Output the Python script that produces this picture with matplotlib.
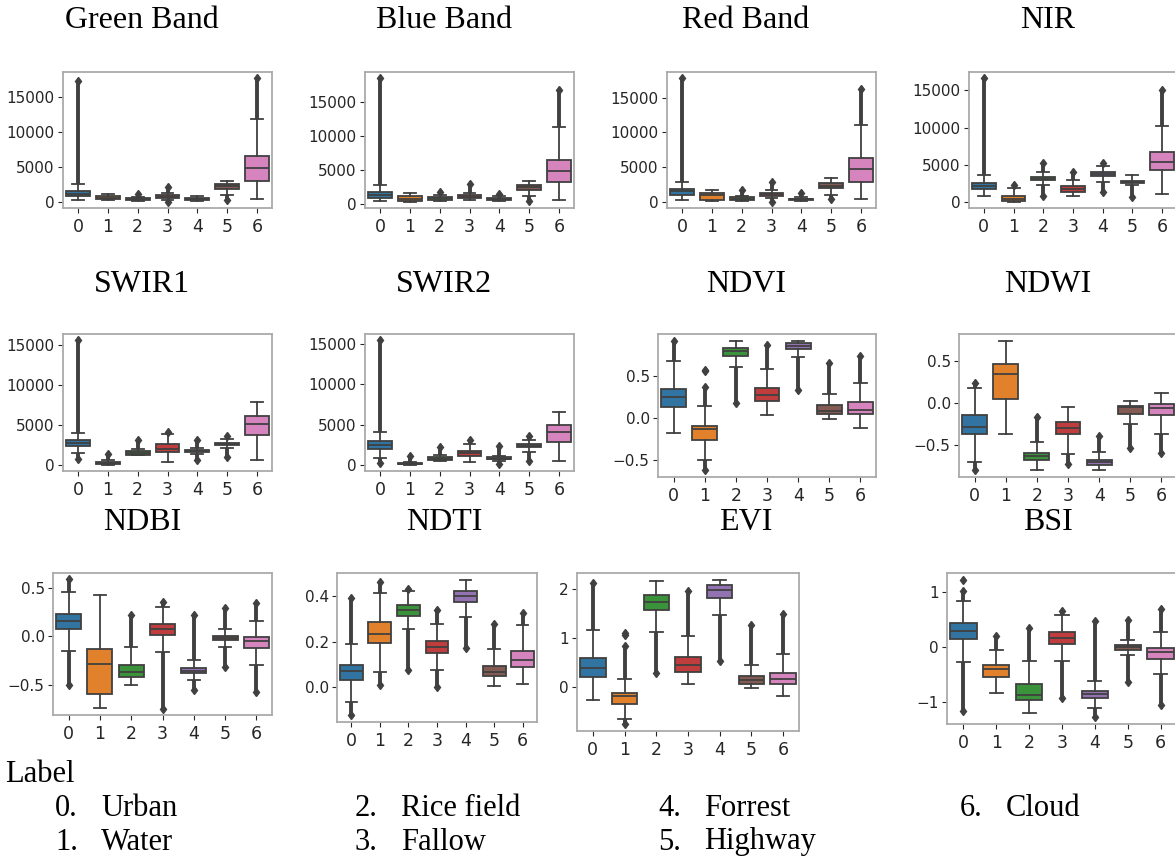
import numpy as np
import matplotlib.pyplot as plt

# ======================= chart data =======================
# one row per class 0..6: [whisker low, q1, median, q3, whisker high, lowest outlier, highest outlier]
# (nan = no outliers on that side)
nan = np.nan
green_band = [
    [330, 794, 1170, 1540, 2570, nan, 17300],
    [230, 370, 600, 840, 1170, nan, nan],
    [140, 280, 420, 560, 700, nan, 1170],
    [230, 560, 750, 930, 1260, 0, 2100],
    [150, 280, 400, 560, 800, nan, nan],
    [930, 1780, 2200, 2570, 3040, 330, nan],
    [470, 3040, 4810, 6540, 11780, nan, 17660],
]
blue_band = [
    [390, 870, 1360, 1690, 2760, nan, 18540],
    [290, 480, 770, 1110, 1600, nan, nan],
    [390, 630, 800, 970, 1260, nan, 1690],
    [630, 920, 1060, 1260, 1600, nan, 2900],
    [390, 580, 720, 920, 1110, nan, 1450],
    [1210, 1980, 2420, 2810, 3390, 390, nan],
    [630, 3150, 4890, 6530, 11280, nan, 16850],
]
red_band = [
    [230, 1030, 1490, 1860, 2890, nan, 17800],
    [140, 280, 930, 1300, 1720, nan, nan],
    [140, 330, 470, 650, 790, nan, 1630],
    [560, 840, 1070, 1300, 1720, 0, 2890],
    [90, 230, 350, 470, 700, nan, 1300],
    [1030, 1960, 2330, 2700, 3490, 470, nan],
    [370, 2890, 4660, 6290, 11090, nan, 16310],
]
nir = [
    [790, 1760, 2150, 2550, 3690, nan, 16620],
    [40, 180, 480, 880, 1890, nan, 2330],
    [2240, 2900, 3120, 3390, 4000, 840, 5230],
    [840, 1410, 1800, 2110, 2990, nan, 4000],
    [2680, 3470, 3740, 4000, 4790, 1360, 5230],
    [2330, 2590, 2730, 2860, 3690, 700, nan],
    [1140, 4310, 5410, 6730, 10160, nan, 15080],
]
swir1 = [
    [1530, 2430, 2760, 3090, 4000, 780, 15660],
    [40, 120, 250, 370, 580, nan, 1440],
    [1240, 1320, 1530, 1730, 2060, nan, 3090],
    [370, 1650, 2060, 2640, 3870, nan, 4200],
    [1440, 1650, 1810, 1940, 2140, 700, 3170],
    [2140, 2470, 2640, 2760, 3260, 990, 3590],
    [700, 3790, 5110, 6140, 7910, nan, nan],
]
swir2 = [
    [860, 2010, 2500, 2910, 4060, 250, 15490],
    [0, 40, 120, 250, 370, nan, 1150],
    [530, 610, 780, 980, 1270, nan, 2170],
    [330, 1150, 1480, 1760, 2580, nan, 3110],
    [450, 660, 780, 940, 1070, 120, 2300],
    [1560, 2170, 2340, 2540, 3030, 410, 3520],
    [450, 2790, 4020, 4920, 6520, nan, nan],
]
ndvi = [
    [-0.189, 0.126, 0.244, 0.343, 0.669, nan, 0.913],
    [-0.504, -0.272, -0.142, -0.106, 0.134, -0.63, 0.362],
    [0.606, 0.736, 0.787, 0.827, 0.909, 0.177, nan],
    [0.028, 0.193, 0.264, 0.346, 0.579, nan, 0.866],
    [0.724, 0.815, 0.850, 0.886, 0.917, 0.323, nan],
    [-0.012, 0.043, 0.075, 0.146, 0.276, nan, 0.646],
    [-0.13, 0.039, 0.094, 0.185, 0.417, nan, 0.728],
]
ndwi = [
    [-0.714, -0.379, -0.286, -0.149, 0.181, -0.806, 0.234],
    [-0.375, 0.040, 0.347, 0.464, 0.746, nan, nan],
    [-0.810, -0.690, -0.637, -0.597, -0.472, nan, -0.173],
    [-0.617, -0.379, -0.302, -0.226, -0.052, -0.734, nan],
    [-0.806, -0.742, -0.714, -0.681, -0.593, nan, -0.395],
    [-0.258, -0.129, -0.052, -0.032, 0.020, -0.544, nan],
    [-0.371, -0.149, -0.060, -0.012, 0.121, -0.605, nan],
]
ndbi = [
    [-0.145, 0.074, 0.165, 0.232, 0.455, -0.498, 0.589],
    [-0.734, -0.589, -0.286, -0.128, 0.428, nan, nan],
    [-0.505, -0.414, -0.370, -0.296, -0.111, nan, 0.219],
    [-0.155, 0.017, 0.074, 0.125, 0.300, -0.744, 0.354],
    [-0.448, -0.380, -0.354, -0.323, -0.246, -0.549, 0.219],
    [-0.111, -0.037, -0.017, 0.007, 0.081, -0.313, 0.293],
    [-0.296, -0.121, -0.044, -0.010, 0.158, -0.576, 0.343],
]
ndti = [
    [-0.062, 0.034, 0.072, 0.100, 0.192, -0.122, 0.393],
    [0.067, 0.196, 0.235, 0.285, 0.416, 0.010, 0.462],
    [0.254, 0.315, 0.340, 0.361, 0.423, 0.075, 0.430],
    [0.075, 0.149, 0.178, 0.204, 0.280, 0.0, 0.340],
    [0.308, 0.376, 0.400, 0.423, 0.472, 0.172, nan],
    [0.007, 0.049, 0.067, 0.096, 0.168, nan, 0.280],
    [0.017, 0.089, 0.118, 0.161, 0.275, nan, 0.328],
]
evi = [
    [-0.269, 0.189, 0.384, 0.593, 1.158, nan, 2.121],
    [-0.660, -0.350, -0.189, -0.135, 0.155, -0.761, 0.822],
    [1.125, 1.562, 1.731, 1.865, 2.168, 0.269, nan],
    [0.047, 0.303, 0.451, 0.606, 1.024, nan, 1.953],
    [1.461, 1.818, 1.966, 2.067, 2.175, 0.519, nan],
    [-0.034, 0.054, 0.135, 0.215, 0.438, nan, 1.259],
    [-0.189, 0.054, 0.155, 0.283, 0.660, nan, 1.481],
]
bsi = [
    [-0.275, 0.143, 0.293, 0.430, 0.830, -1.17, 1.009],
    [-0.830, -0.543, -0.406, -0.334, -0.048, nan, 0.203],
    [-1.200, -0.973, -0.872, -0.681, -0.257, nan, 0.352],
    [-0.251, 0.048, 0.167, 0.263, 0.573, -0.931, 0.657],
    [-1.110, -0.931, -0.860, -0.794, -0.621, -1.278, 0.472],
    [-0.155, -0.048, -0.006, 0.042, 0.131, -0.645, 0.490],
    [-0.496, -0.215, -0.096, -0.012, 0.263, -1.051, 0.693],
]

# a few isolated outliers (class, value)
extra_ndvi = [(1, 0.55), (1, 0.57)]
extra_evi = [(1, 1.06), (1, 1.10)]
extra_bsi = [(0, 1.22)]

titles = ["Green Band", "Blue Band", "Red Band", "NIR",
          "SWIR1", "SWIR2", "NDVI", "NDWI",
          "NDBI", "NDTI", "EVI", "BSI"]
panel_data = [green_band, blue_band, red_band, nir,
              swir1, swir2, ndvi, ndwi,
              ndbi, ndti, evi, bsi]
panel_extra = [[], [], [], [], [], [], extra_ndvi, [], [], [], extra_evi, extra_bsi]
band_ticks = [0, 5000, 10000, 15000]
panel_yticks = [band_ticks, band_ticks, band_ticks, band_ticks,
                band_ticks, band_ticks, [-0.5, 0.0, 0.5], [-0.5, 0.0, 0.5],
                [-0.5, 0.0, 0.5], [0.0, 0.2, 0.4], [0, 1, 2], [-1, 0, 1]]

class_ids = ["0", "1", "2", "3", "4", "5", "6"]
class_names = ["Urban", "Water", "Rice field", "Fallow", "Forrest", "Highway", "Cloud"]
# ===========================================================

W, H = 1175, 859
colors = ["#3274a1", "#e1812c", "#3a923a", "#c03d3e", "#9372b2", "#845b53", "#d684bd"]
gray = "#404040"

# axes boxes in pixels (left, top, right, bottom) - panels are pasted at slightly different sizes
boxes = [(63, 72, 272, 208), (365, 72, 574, 208), (667, 72, 876, 208), (969, 72, 1177, 208),
         (63, 334, 272, 471), (365, 334, 574, 471), (658, 334, 876, 477), (959, 334, 1177, 477),
         (53, 573, 272, 715), (337, 573, 537, 722), (577, 573, 799, 731), (947, 573, 1177, 724)]
title_y = [21, 21, 21, 21, 284, 284, 284, 284, 522, 522, 522, 522]
title_x = [142, 444, 746, 1048] * 3

fig = plt.figure(figsize=(W / 100, H / 100), dpi=100)

for i, rows in enumerate(panel_data):
    x0, y0, x1, y1 = boxes[i]
    ax = fig.add_axes([x0 / W, 1 - y1 / H, (x1 - x0) / W, (y1 - y0) / H])
    stats = []
    for r in rows:
        stats.append(dict(whislo=r[0], q1=r[1], med=r[2], q3=r[3], whishi=r[4], fliers=[]))
    bp = ax.bxp(stats, positions=range(7), widths=0.8, patch_artist=True,
                boxprops=dict(edgecolor=gray, linewidth=1.3),
                medianprops=dict(color=gray, linewidth=1.3),
                whiskerprops=dict(color=gray, linewidth=1.3),
                capprops=dict(color=gray, linewidth=1.3), zorder=2)
    for patch, c in zip(bp["boxes"], colors):
        patch.set_facecolor(c)

    # dense outliers drawn as a thick run of diamonds
    for k, r in enumerate(rows):
        for end, fl in ((r[0], r[5]), (r[4], r[6])):
            if not np.isnan(fl):
                ax.vlines(k, min(end, fl), max(end, fl), color=gray, lw=2.8, zorder=1)
                ax.plot(k, fl, marker="d", ms=4.5, color=gray, zorder=1)
    for k, v in panel_extra[i]:
        ax.plot(k, v, marker="d", ms=4.5, color=gray, ls="none")

    ax.set_xlim(-0.5, 6.5)
    ax.set_xticks(range(7))
    ax.set_xticklabels(class_ids)
    ax.set_yticks(panel_yticks[i])
    ax.tick_params(colors="#262626", length=3.5)
    ax.tick_params(axis="x", labelsize=12.5)
    ax.tick_params(axis="y", labelsize=11, pad=2.5)
    for s in ax.spines.values():
        s.set_color("#aaaaaa")
        s.set_linewidth(1.3)

    fig.text(title_x[i] / W, 1 - title_y[i] / H, titles[i], ha="center", va="center",
             family="Liberation Serif", fontsize=23)

# class legend under the grid
fig.text(5 / W, 1 - 775 / H, "Label", ha="left", va="center", family="Liberation Serif", fontsize=22)
col_x = [55, 355, 658, 960]
for j, name in enumerate(class_names):
    cx = col_x[j // 2]
    cy = 808 if j % 2 == 0 else 842
    fig.text(cx / W, 1 - cy / H, class_ids[j] + ".", ha="left", va="center",
             family="Liberation Serif", fontsize=22)
    fig.text((cx + 46) / W, 1 - cy / H, name, ha="left", va="center",
             family="Liberation Serif", fontsize=22)

plt.savefig("out.png", dpi=100)
